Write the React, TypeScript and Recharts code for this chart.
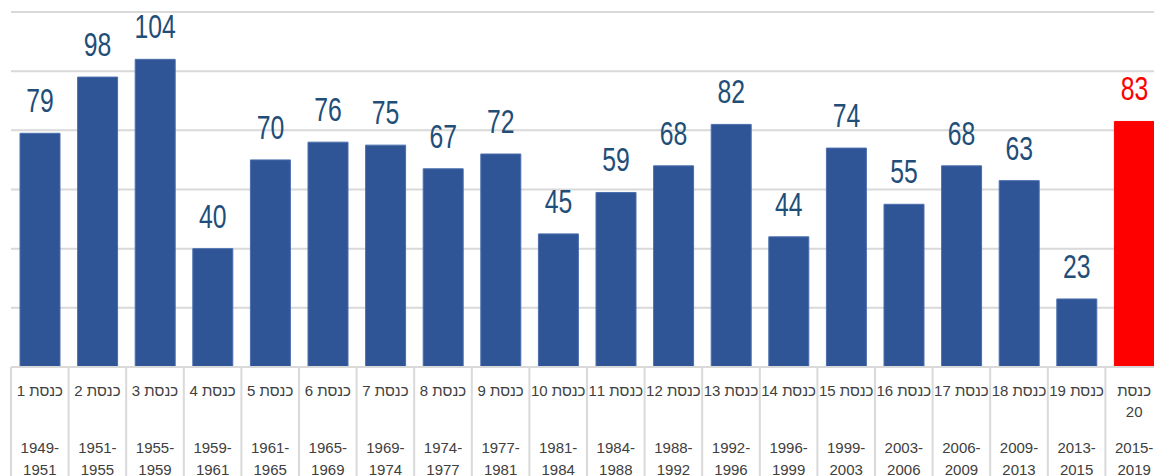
import React from "react";
import { BarChart, Bar, XAxis, YAxis, CartesianGrid, LabelList, Cell } from "recharts";

const knessets = ["כנסת 1","כנסת 2","כנסת 3","כנסת 4","כנסת 5","כנסת 6","כנסת 7","כנסת 8","כנסת 9","כנסת 10","כנסת 11","כנסת 12","כנסת 13","כנסת 14","כנסת 15","כנסת 16","כנסת 17","כנסת 18","כנסת 19","כנסת 20"];
const yearStarts = ["1949-","1951-","1955-","1959-","1961-","1965-","1969-","1974-","1977-","1981-","1984-","1988-","1992-","1996-","1999-","2003-","2006-","2009-","2013-","2015-"];
const yearEnds = ["1951","1955","1959","1961","1965","1969","1974","1977","1981","1984","1988","1992","1996","1999","2003","2006","2009","2013","2015","2019"];
const values = [79, 98, 104, 40, 70, 76, 75, 67, 72, 45, 59, 68, 82, 44, 74, 55, 68, 63, 23, 83];
const yTicks = [0, 20, 40, 60, 80, 100, 120];

const BLUE = "#2F5597";
const RED = "#FF0000";
const LABEL_BLUE = "#1F4E79";
const GRID = "#D9D9D9";

const data = knessets.map((k, i) => ({ name: k, start: yearStarts[i], end: yearEnds[i], value: values[i] }));

const CustomTick = (props: any) => {
  const { x, y, index } = props;
  const d = data[index];
  if (!d) return null;
  const half = 1152 / data.length / 2;
  const last = index === data.length - 1;
  const textProps = {
    textAnchor: "middle" as const,
    fontSize: 15,
    fill: "#404040",
    fontFamily: "'Liberation Sans', 'DejaVu Sans', sans-serif",
  };
  const parts = d.name.split(" ");
  return (
    <g>
      <line x1={x - half} x2={x - half} y1={y} y2={y + 120} stroke={GRID} strokeWidth={2} />
      {last && <line x1={x + half} x2={x + half} y1={y} y2={y + 120} stroke={GRID} strokeWidth={2} />}
      {last ? (
        <>
          <text x={x} y={y + 29} {...textProps} direction="rtl">{parts[0]}</text>
          <text x={x} y={y + 50} {...textProps}>{parts[1]}</text>
        </>
      ) : (
        <text x={x} y={y + 29} {...textProps} direction="rtl">{d.name}</text>
      )}
      <text x={x} y={y + 86} {...textProps}>{d.start}</text>
      <text x={x} y={y + 108} {...textProps}>{d.end}</text>
    </g>
  );
};

const ValueLabel = (props: any) => {
  const { x, y, width, value, index } = props;
  const cx = x + width / 2;
  const color = index === data.length - 1 ? RED : LABEL_BLUE;
  return (
    <text
      transform={`translate(${cx},${y - 21}) scale(0.75,1)`}
      textAnchor="middle"
      fontSize={33}
      fill={color}
      fontFamily="'Liberation Sans Narrow', 'Liberation Sans', sans-serif"
    >
      {value}
    </text>
  );
};

export default function App() {
  return (
    <div style={{ position: "fixed", left: 0, top: 0, width: 1154, height: 476, overflow: "hidden", background: "#fff" }}>
      <BarChart width={1170} height={476} data={data} margin={{ top: 12, left: 11, right: 7, bottom: 0 }}>
        <CartesianGrid vertical={false} stroke={GRID} strokeWidth={2} />
        <YAxis hide domain={[0, 120]} ticks={yTicks} />
        <XAxis
          dataKey="name"
          height={109}
          interval={0}
          tickLine={false}
          tickSize={0}
          tickMargin={0}
          axisLine={{ stroke: GRID, strokeWidth: 2 }}
          tick={<CustomTick />}
        />
        <Bar dataKey="value" barSize={40} isAnimationActive={false} strokeWidth={1}>
          {data.map((d, i) => (
            <Cell key={i} fill={i === data.length - 1 ? RED : BLUE} stroke={i === data.length - 1 ? RED : "#4A6FAE"} />
          ))}
          <LabelList dataKey="value" content={<ValueLabel />} />
        </Bar>
      </BarChart>
    </div>
  );
}
